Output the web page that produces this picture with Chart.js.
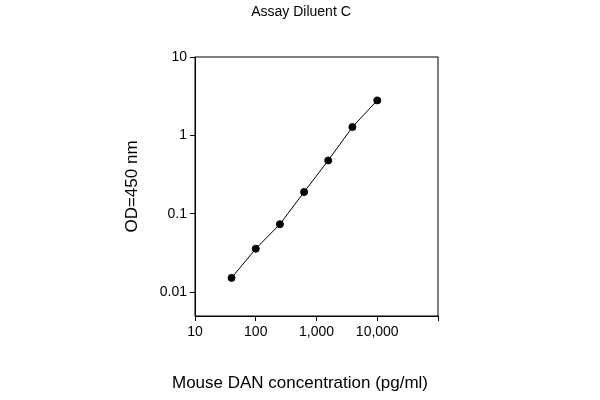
<!DOCTYPE html>
<html>
<head>
<script src="https://cdn.jsdelivr.net/npm/chart.js@4"></script>
<style>body{margin:0;background:#fff}</style>
</head>
<body>
<div style="width:600px;height:400px"><canvas id="c"></canvas></div>
<script>
const concentrations = [40, 100, 250, 625, 1560, 3900, 10000];
const odValues = [0.0153, 0.036, 0.074, 0.19, 0.48, 1.28, 2.8];
const xTicks = [10, 100, 1000, 10000, 100000];
const yTicks = [0.01, 0.1, 1, 10];
const chartTitle = 'Assay Diluent C';
const xTitle = 'Mouse DAN concentration (pg/ml)';

// frame around the plot plus the titles, which sit centred on the page
const boxPlugin = {
  id: 'box',
  afterDraw(chart) {
    const { ctx, chartArea: a } = chart;
    ctx.save();
    ctx.strokeStyle = '#000';
    ctx.lineWidth = 1;
    ctx.strokeRect(a.left, a.top, a.right - a.left, a.bottom - a.top);
    ctx.fillStyle = '#000';
    ctx.textAlign = 'center';
    ctx.textBaseline = 'middle';
    ctx.font = '14px "Liberation Sans"';
    ctx.fillText(chartTitle, 301, 12);
    ctx.font = '17px "Liberation Sans"';
    ctx.fillText(xTitle, 300, 383);
    ctx.restore();
  }
};

new Chart(document.getElementById('c'), {
  type: 'line',
  data: {
    datasets: [{
      data: concentrations.map((x, i) => ({ x, y: odValues[i] })),
      borderColor: '#000',
      borderWidth: 1,
      backgroundColor: '#000',
      pointRadius: 3.5,
      pointHoverRadius: 3.5
    }]
  },
  options: {
    responsive: true,
    maintainAspectRatio: false,
    animation: false,
    layout: { padding: { top: 57, left: 118, right: 162, bottom: 6 } },
    plugins: {
      legend: { display: false },
      tooltip: { enabled: false }
    },
    scales: {
      x: {
        type: 'logarithmic', min: 10, max: 100000,
        afterBuildTicks: s => { s.ticks = xTicks.map(v => ({ value: v })); },
        afterFit: s => { s.height = 78; },
        grid: { drawOnChartArea: false, color: '#000', tickLength: 5 },
        border: { color: '#000' },
        ticks: {
          color: '#000', font: { family: 'Liberation Sans', size: 14 }, maxRotation: 0,
          callback: v => v === 100000 ? '' : v.toLocaleString('en-US')
        }
      },
      y: {
        type: 'logarithmic', min: 0.005, max: 10,
        afterBuildTicks: s => { s.ticks = yTicks.map(v => ({ value: v })); },
        afterFit: s => { s.width = 77; },
        grid: { drawOnChartArea: false, color: '#000', tickLength: 5 },
        border: { color: '#000' },
        ticks: {
          color: '#000', font: { family: 'Liberation Sans', size: 14 },
          callback: v => String(v)
        },
        title: {
          display: true, text: 'OD=450 nm', color: '#000',
          font: { family: 'Liberation Sans', size: 17 }
        }
      }
    }
  },
  plugins: [boxPlugin]
});
</script>
</body>
</html>
